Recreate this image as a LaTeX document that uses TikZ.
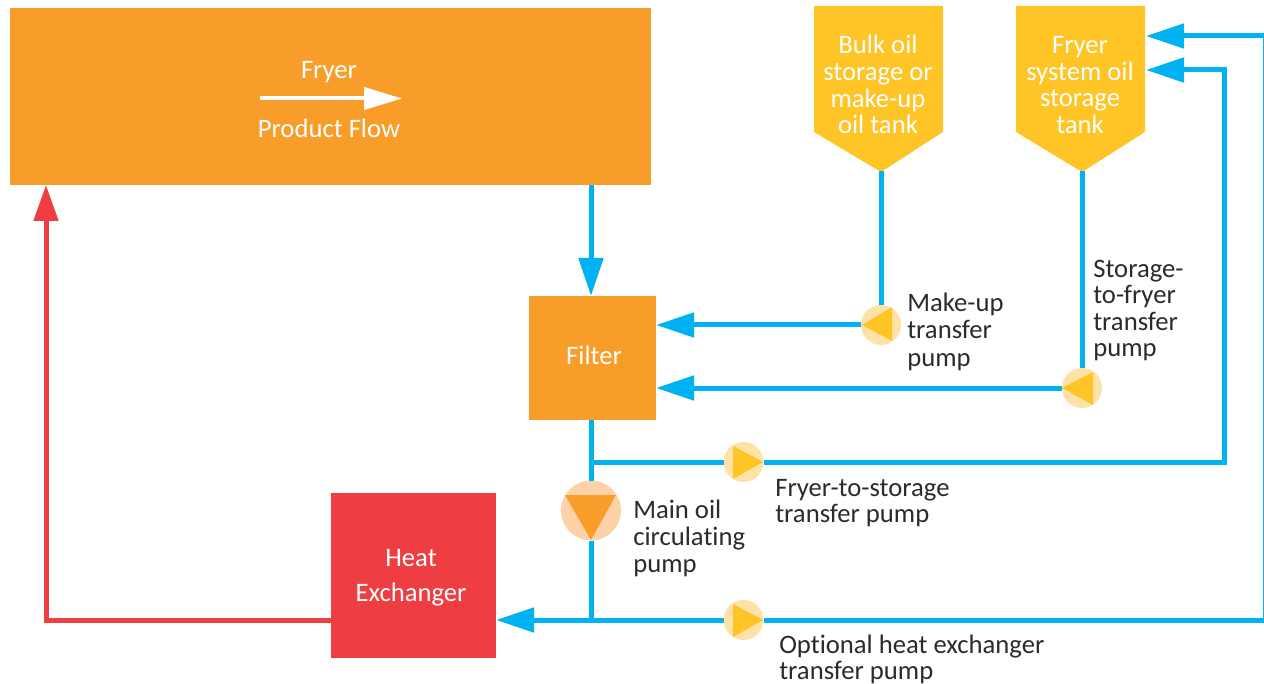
\documentclass[tikz,border=0pt]{standalone}
\usepackage{fontspec}
\setmainfont{Carlito}[Ligatures=NoCommon,Contextuals=NoAlternate]
\usetikzlibrary{arrows.meta,calc}
\definecolor{orangeB}{HTML}{F99D2A}
\definecolor{yellowB}{HTML}{FFC425}
\definecolor{pipeblue}{HTML}{00B2F2}
\definecolor{redB}{HTML}{EF3E42}
\definecolor{lightO}{HTML}{FDD2A6}
\definecolor{lightY}{HTML}{FEE2A8}
\definecolor{inkT}{HTML}{2B2A2C}
\tikzset{
  x=0.75pt,y=-0.75pt,
  box/.style={fill=#1,draw=none,inner sep=0,outer sep=0,anchor=north west},
  wtext/.style={text=white,font=\fontsize{20}{20}\selectfont,inner sep=0,anchor=base},
  dtext/.style={text=inkT,font=\fontsize{20}{20}\selectfont,inner sep=0,anchor=base west},
  pipe/.style={draw=pipeblue,line width=3.75pt},
  pipearrow/.style={pipe,-{Triangle[length=28.5pt,width=18pt]}},
  redarrow/.style={draw=redB,line width=3.75pt,-{Triangle[length=27pt,width=18pt]}},
  pump/.style={circle,fill=lightY,draw=none,minimum size=30pt,inner sep=0,outer sep=0},
  mainpump/.style={circle,fill=lightO,draw=none,minimum size=45pt,inner sep=0,outer sep=0},
}
\begin{document}
\begin{tikzpicture}
\path[use as bounding box,clip] (0,0) rectangle (1264,684);
% boxes
\node[box=orangeB,minimum width=480.75pt,minimum height=132.75pt] (fryer) at (10,8) {};
\node[box=orangeB,minimum width=95.25pt,minimum height=93pt] (filter) at (529,296) {};
\node[box=redB,minimum width=123.75pt,minimum height=123.75pt] (hx) at (331,493) {};
% tanks
\fill[yellowB] (814,6) -- (943,6) -- (943,132) -- (881,172) -- (814,132) -- cycle;
\fill[yellowB] (1016,6) -- (1145,6) -- (1145,132) -- (1082,172) -- (1016,132) -- cycle;
\coordinate (tankAtip) at (881,171);
\coordinate (tankBtip) at (1082,171);
\coordinate (tankBtop) at (1146,36);
\coordinate (tankBmid) at (1146,70);
% pumps
\node[pump] (pumpA) at (881,325) {};
\node[pump] (pumpB) at (1082,388) {};
\node[pump] (pumpC) at (743.5,462) {};
\node[pump] (pumpD) at (743.5,620) {};
\node[mainpump] (pumpM) at (591,510.5) {};
\fill[yellowB] (862,325) -- (892,307) -- (892,341) -- cycle;
\fill[yellowB] (1062,388) -- (1093,372) -- (1093,405) -- cycle;
\fill[yellowB] (763,462) -- (733,446) -- (733,479) -- cycle;
\fill[yellowB] (763,620) -- (733,604) -- (733,637) -- cycle;
\fill[orangeB] (565,495) -- (616,495) -- (591,540) -- cycle;
% junctions and corners
\coordinate (fryerOut) at (591,185);
\coordinate (filterIn) at (591,296);
\coordinate (filterOut) at (591,420);
\coordinate (jA) at (591,462);
\coordinate (jB) at (591,620);
\coordinate (cA) at (1224,462);
\coordinate (cB) at (1224,70);
\coordinate (cC) at (1265.5,622.5);
\coordinate (cD) at (1265.5,33.5);
\coordinate (cE) at (46,620);
\coordinate (edgeT) at (1264,36);
\coordinate (edgeB) at (1264,620);
\coordinate (fryerIn) at (46,185);
% connectors
\draw[pipearrow] (fryerOut) -- (filterIn);
\draw[pipe] (tankAtip) -- (pumpA.north);
\draw[pipe] (tankBtip) -- (pumpB.north);
\draw[pipearrow] (pumpA.west) -- (filter.east |- pumpA.west);
\draw[pipearrow] (pumpB.west) -- (filter.east |- pumpB.west);
\draw[pipe] (filterOut) -- (pumpM.north);
\draw[pipe] (pumpM.south) -- (jB);
\draw[pipe] (jA) -- (pumpC.west);
\draw[pipearrow,line join=miter] (pumpC.east) -- (cA) -- (cB) -- (tankBmid);
\draw[pipe] (cD) -- (cC);
\draw[pipearrow] (edgeT) -- (tankBtop);
\draw[pipe] (edgeB) -- (pumpD.east);
\draw[pipearrow] (pumpD.west) -- (hx.east |- pumpD.west);
\draw[redarrow,line join=miter] (hx.west |- cE) -- (cE) -- (fryerIn);
% fryer arrow
\node[wtext] (tFryer) at (329,79) {Fryer};
\node[wtext] (tFlow) at (329,138) {Product Flow};
\coordinate (flowA) at (260,98.5);
\coordinate (flowB) at (402,98.5);
\draw[white,line width=3pt,-{Triangle[length=28.5pt,width=16.5pt]}] (flowA) -- (flowB);
% white labels
\node[wtext] (tFilter) at (594,364) {Filter};
\node[wtext] (tHeat) at (411,566) {Heat};
\node[wtext] (tExch) at (411,601) {Exchanger};
\node[wtext] (tA1) at (878,54) {Bulk oil};
\node[wtext] (tA2) at (878,81) {storage or};
\node[wtext] (tA3) at (878,108) {make-up};
\node[wtext] (tA4) at (878,134) {oil tank};
\node[wtext] (tB1) at (1080,54) {Fryer};
\node[wtext] (tB2) at (1080,81) {system oil};
\node[wtext] (tB3) at (1080,107) {storage};
\node[wtext] (tB4) at (1080,134) {tank};
% dark labels
\node[dtext] (l1) at (907,312) {Make-up};
\node[dtext] (l2) at (907,339) {transfer};
\node[dtext] (l3) at (907,366) {pump};
\node[dtext] (l4) at (1093,278) {Storage-};
\node[dtext] (l5) at (1093,304) {to-fryer};
\node[dtext] (l6) at (1093,330) {transfer};
\node[dtext] (l7) at (1093,357) {pump};
\node[dtext] (l8) at (775,496) {Fryer-to-storage};
\node[dtext] (l9) at (775,522) {transfer pump};
\node[dtext] (l10) at (633,518) {Main oil};
\node[dtext] (l11) at (633,545) {circulating};
\node[dtext] (l12) at (633,572) {pump};
\node[dtext] (l13) at (779,653) {Optional heat exchanger};
\node[dtext] (l14) at (779,679) {transfer pump};
\end{tikzpicture}
\end{document}
